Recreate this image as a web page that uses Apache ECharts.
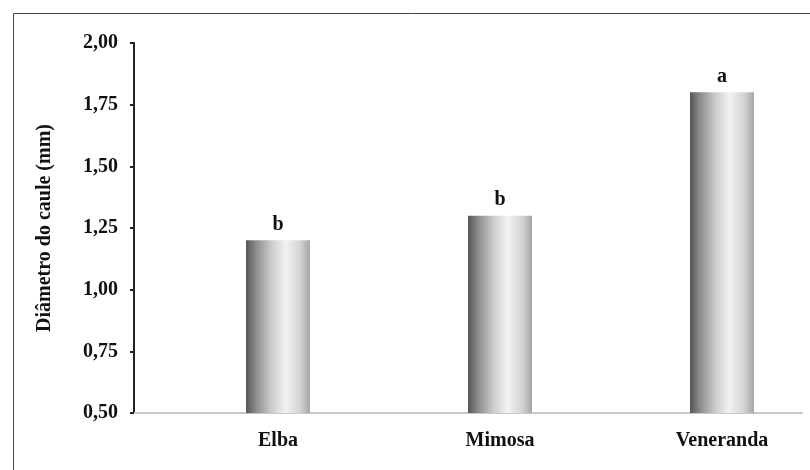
<!DOCTYPE html>
<html>
<head>
<meta charset="utf-8">
<script src="https://cdn.jsdelivr.net/npm/echarts@6/dist/echarts.min.js"></script>
<style>html,body{margin:0;padding:0;background:#fff}#c{width:810px;height:470px}</style>
</head>
<body>
<div id="c"></div>
<script>
const categories = ['Elba', 'Mimosa', 'Veneranda'];
const values = [1.20, 1.30, 1.80];
const letters = ['b', 'b', 'a'];
const yTicks = { min: 0.5, max: 2.0, interval: 0.25 };
const yTitle = 'Diâmetro do caule (mm)';

const font = '"Liberation Serif", "Times New Roman", serif';
const chart = echarts.init(document.getElementById('c'), null, { renderer: 'canvas' });
const barGrad = new echarts.graphic.LinearGradient(0, 0, 1, 0, [
  { offset: 0, color: '#555555' },
  { offset: 0.15, color: '#8a8a8a' },
  { offset: 0.4, color: '#cdcdcd' },
  { offset: 0.62, color: '#f2f2f2' },
  { offset: 0.85, color: '#d2d2d2' },
  { offset: 1, color: '#a5a5a5' }
]);
chart.setOption({
  animation: false,
  backgroundColor: '#fff',
  graphic: [{
    type: 'rect', left: 11, top: 11, shape: { width: 820, height: 480 },
    style: { fill: 'none', stroke: '#444', lineWidth: 1 }, silent: true
  }],
  grid: [
    { left: 167, width: 666, top: 43, bottom: 57, outerBoundsMode: 'none', containLabel: false },
    { left: 134, right: 8, top: 43, bottom: 57 }
  ],
  xAxis: [
    {
      type: 'category', gridIndex: 0, data: categories,
      axisLine: { show: false }, axisTick: { show: false },
      axisLabel: { color: '#111', fontFamily: font, fontWeight: 'bold', fontSize: 20, margin: 18 }
    },
    {
      type: 'value', gridIndex: 1, min: 0, max: 1,
      axisLine: { show: true, lineStyle: { color: '#c8c8c8', width: 2 } },
      axisTick: { show: false }, axisLabel: { show: false }, splitLine: { show: false }
    }
  ],
  yAxis: [
    {
      type: 'value', gridIndex: 0, min: yTicks.min, max: yTicks.max, interval: yTicks.interval,
      offset: 33,
      name: yTitle, nameLocation: 'middle', nameGap: 79, nameRotate: 90,
      nameTextStyle: { color: '#111', fontFamily: font, fontWeight: 'bold', fontSize: 20 },
      axisLine: { show: true, lineStyle: { color: '#222', width: 2 } },
      axisTick: { show: true, length: 4, lineStyle: { color: '#222', width: 2 } },
      axisLabel: {
        color: '#111', fontFamily: font, fontWeight: 'bold', fontSize: 20, margin: 16,
        formatter: v => v.toFixed(2).replace('.', ',')
      },
      splitLine: { show: false }
    },
    {
      type: 'value', gridIndex: 1, show: false
    }
  ],
  series: [{
    type: 'bar', xAxisIndex: 0, yAxisIndex: 0,
    data: values, barWidth: 64,
    itemStyle: { color: barGrad },
    label: {
      show: true, position: 'top', distance: 6,
      formatter: p => letters[p.dataIndex],
      color: '#111', fontFamily: font, fontWeight: 'bold', fontSize: 20
    }
  }]
});
</script>
</body>
</html>
